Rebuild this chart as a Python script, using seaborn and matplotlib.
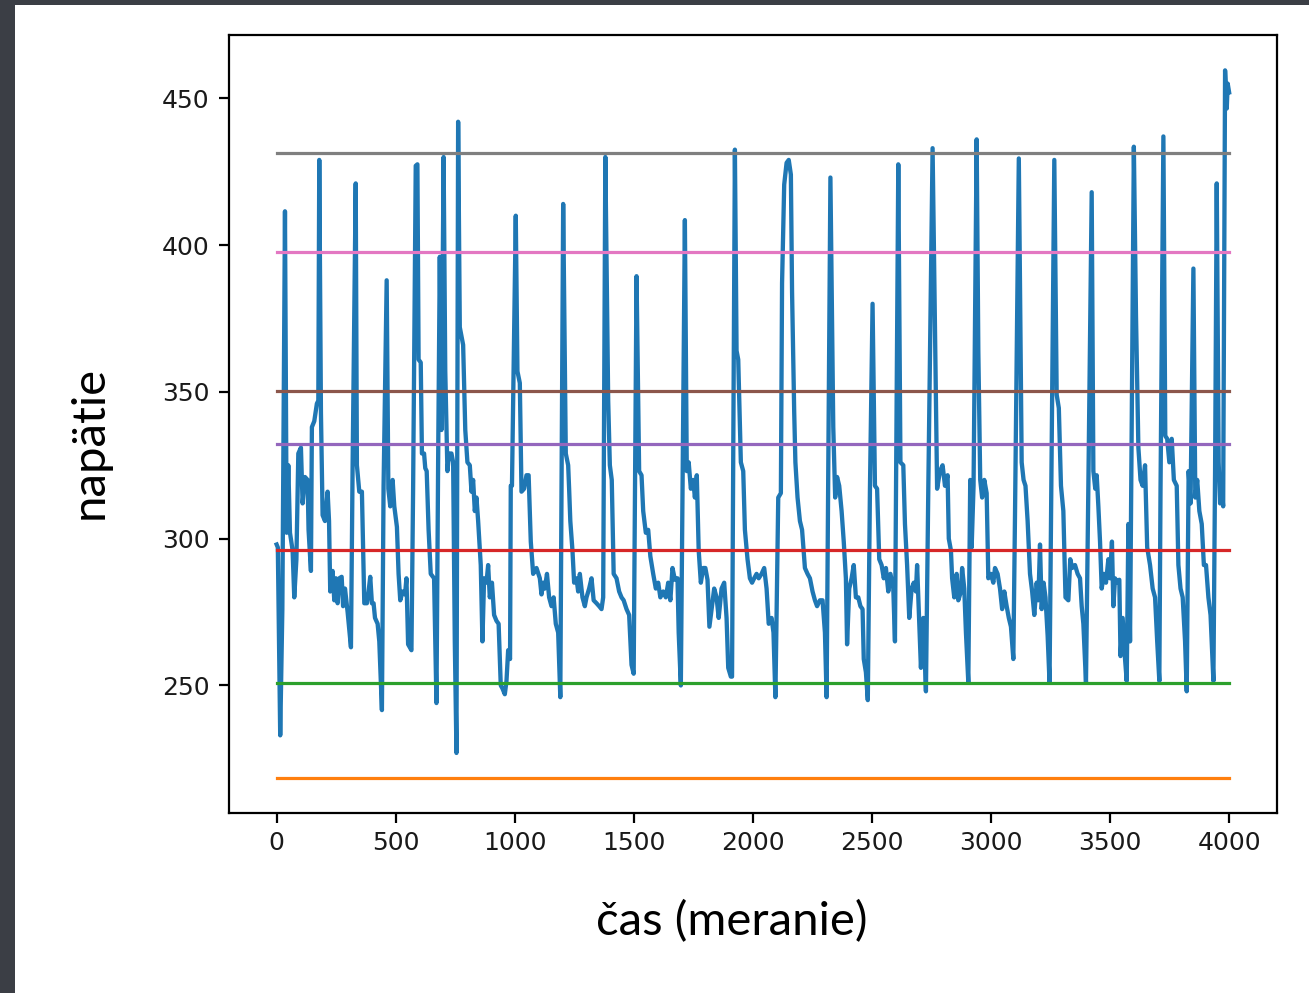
import matplotlib
matplotlib.use("Agg")
import matplotlib.pyplot as plt
from matplotlib.patches import Rectangle
import numpy as np
import pandas as pd
import seaborn as sns

# ---------------- data ----------------
time = [0, 5, 15, 24, 35, 42, 49, 56, 67, 74, 83, 91, 102, 109, 119, 130, 134, 144, 148, 158, 169, 175, 179, 186, 193,
        203, 214, 220, 225, 235, 242, 249, 256, 263, 273, 279, 287, 298, 312, 319, 332, 337, 347, 358, 368, 379, 386,
        393, 400, 407, 413, 424, 431, 442, 449, 462, 469, 477, 487, 494, 505, 512, 519, 529, 539,
        545, 552, 566, 573, 584, 591, 596, 605, 610, 619, 624, 630, 638, 647, 661, 671, 678, 685, 692, 701, 708, 717,
        724, 734, 741, 748, 755, 762, 769, 783, 792, 801, 811, 818, 825, 832, 839, 846, 857, 864, 871, 881, 888, 895,
        904, 913, 923, 932, 941, 948, 958, 965, 972, 980, 983, 988, 1004, 1011, 1021, 1028, 1039, 1049, 1058, 1067,
        1077, 1091, 1105,
        1112, 1119, 1126, 1135, 1144, 1154, 1163, 1172, 1182, 1191, 1203, 1214, 1224, 1228, 1233, 1242, 1249, 1259,
        1266, 1273, 1284, 1294, 1301, 1312, 1322, 1331, 1343, 1354, 1364, 1371, 1380, 1392, 1399, 1407, 1415, 1427,
        1438, 1448, 1457, 1469, 1480, 1490, 1499, 1511, 1522, 1532, 1539, 1550, 1560, 1569, 1581, 1592, 1602, 1611,
        1623, 1634, 1644, 1653, 1662, 1672, 1683, 1688, 1697,
        1714, 1722, 1730, 1739, 1749, 1756, 1764, 1772, 1781, 1791, 1800, 1809, 1817, 1828, 1837, 1847, 1856, 1868,
        1879, 1889, 1896, 1907, 1912, 1924, 1931, 1938, 1949, 1959, 1966, 1977, 1987, 1996, 2005, 2015, 2024, 2036,
        2047, 2057, 2066, 2078, 2086, 2094, 2106, 2117, 2122, 2131, 2141, 2150, 2159, 2164, 2173, 2178, 2187, 2197,
        2206, 2218, 2229, 2239,
        2250, 2260, 2269, 2281, 2292, 2302, 2309, 2325, 2337, 2345, 2353, 2362, 2372, 2381, 2390, 2395, 2404, 2414,
        2423, 2432, 2442, 2451, 2460, 2465, 2474, 2482, 2491, 2502, 2512, 2521, 2530, 2540, 2549, 2558, 2568, 2577,
        2589, 2596, 2610, 2619, 2631, 2638, 2647, 2656, 2666, 2675, 2684, 2689, 2698, 2705, 2715, 2726, 2736, 2754,
        2764, 2773, 2785, 2796, 2806,
        2817, 2822, 2831, 2836, 2845, 2855, 2862, 2873, 2878, 2887, 2894, 2904, 2912, 2918, 2926, 2939, 2946, 2954,
        2962, 2971, 2981, 2988, 2999, 3009, 3016, 3027, 3037, 3046, 3055, 3065, 3074, 3083, 3093, 3100, 3116, 3128,
        3136, 3144, 3153, 3163, 3172, 3181, 3191, 3198, 3205, 3212, 3220, 3228, 3237, 3245, 3265, 3275, 3284, 3293,
        3303, 3312, 3324, 3332, 3340, 3352, 3363, 3373,
        3380, 3387, 3398, 3408, 3422, 3429, 3437, 3443, 3450, 3457, 3464, 3473, 3482, 3492, 3499, 3507, 3513, 3520,
        3529, 3538, 3543, 3552, 3562, 3569, 3576, 3583, 3599, 3608, 3618, 3627, 3636, 3646, 3655, 3667, 3678, 3688,
        3697, 3706, 3711, 3723, 3731, 3739, 3748, 3758, 3767, 3779, 3786, 3795, 3804, 3814, 3821, 3829, 3837, 3849,
        3857, 3865, 3874, 3884, 3893, 3902, 3912, 3921, 3933, 3940, 3947, 3955, 3961, 3968, 3974, 3982, 3989, 3993,
        3999]

voltage = [298, 297, 233, 276, 411.5, 302, 325, 302, 296, 280, 293, 329, 331, 312, 321, 320, 303, 289, 338, 340, 346,
           347, 429, 343, 308, 306, 316, 306, 282, 289, 279, 286.5, 278, 286.5, 287, 277, 283, 275, 263, 325, 421, 325,
           316, 316, 278, 278, 282, 287, 278, 278, 273, 271, 265, 241.6, 318, 388, 317, 311, 320, 311, 304, 288, 279,
           282, 281,
           286.5, 264, 262, 317, 427, 427.5, 361, 360, 329, 329, 324, 323, 303, 288, 286.5, 244, 326, 396, 337, 430,
           357, 323, 329, 329, 326, 265, 227, 442, 372, 366, 337, 326, 325, 316, 320, 309.4, 314, 306, 291, 265, 286.5,
           285, 291, 280, 285, 274, 272, 271, 250, 249, 247, 251.5, 262, 259, 318, 318, 410, 357, 353, 316, 317, 321.6,
           321.6, 299, 288, 290, 286.5,
           281, 285, 283, 288, 280, 277, 280, 271, 268, 246, 414, 329, 325, 317, 306, 296, 285, 286.5, 282, 288, 280,
           277, 280, 283, 286.5, 279, 278, 277, 276, 280, 430, 347, 325, 320, 288, 286.5, 282, 280, 279, 276, 274, 257,
           254, 389.4, 323, 321.6, 309.4, 302, 303, 294, 288, 283, 285, 280, 282, 280, 285, 279, 290, 286, 286.5, 268,
           250,
           408.5, 323, 326, 317, 320, 314, 321.6, 296, 285, 290, 290, 286, 270, 277, 283, 280, 273, 283, 285, 273, 256,
           253, 253, 432.5, 364, 361, 326, 323, 303, 293, 286.5, 285, 286.5, 288, 286.5, 288, 290, 283, 271, 273, 268,
           246, 314, 315.5, 387, 420.6, 428, 429, 424, 384, 343, 326, 314, 306, 303, 290, 288, 286.5,
           282, 279, 277, 279, 279, 268, 246, 423, 338, 314, 321, 318, 309.4, 299, 286.5, 264, 283, 286.5, 291, 280,
           280, 277, 276, 259, 254.5, 245, 317, 380, 318, 317, 293, 291, 286.5, 290, 282, 288, 283, 265, 427.5, 326,
           325, 305, 291, 273, 283, 285, 282, 291, 271, 256, 273, 248, 317, 433, 372, 317, 323, 325, 318,
           321.6, 300, 296, 286.5, 280, 288, 279, 282, 290, 283, 268, 251, 320, 297, 318, 436, 364, 320, 314, 320,
           315.5, 286.5, 288, 285, 290, 288, 283, 276, 282, 277, 273, 270, 259, 308, 429.5, 326, 320, 318, 306, 288,
           282, 274, 285, 279, 298, 276, 285, 280, 267, 251, 429, 349, 344.5, 318, 309.4, 280, 279, 293, 290, 291, 288,
           286.5,
           277, 271, 251, 318, 418, 323, 317, 321.6, 311, 299, 283, 288, 285, 293, 286.5, 299, 277, 286.5, 285, 286,
           260, 273, 259, 251.5, 305, 265, 433.5, 376, 331, 320, 318, 325, 297, 291, 283, 280, 265, 251.5, 317, 437,
           335, 334, 326, 334, 320, 318, 291, 283, 280, 265, 248, 323, 312, 392, 314, 320, 309.4, 305, 291, 291, 280,
           274, 251.5, 323, 421, 326, 312, 317, 311, 459.5, 446.5, 455, 452]

# horizontal threshold levels (drawn in default colour-cycle order after the signal)
levels = [218.6, 251.0, 296.3, 332.2, 350.2, 397.7, 431.2]
level_span = [0, 4000]

x_label = "čas (meranie)"
y_label = "napätie"

# ---------------- figure ----------------
W, H = 1309, 993
fig = plt.figure(figsize=(W / 100, H / 100), dpi=100)
fig.patch.set_facecolor("white")

# slide frame (dark textured border on left and top)
fig.patches.append(Rectangle((0, 0), 15 / W, 1, transform=fig.transFigure,
                             facecolor="#3b3e45", edgecolor="none", zorder=-10))
fig.patches.append(Rectangle((0, 1 - 5 / H), 1, 5 / H, transform=fig.transFigure,
                             facecolor="#3b3e45", edgecolor="none", zorder=-10))

ax = fig.add_axes([229 / W, 1 - 813 / H, (1277 - 229) / W, (813 - 35) / H])
ax.set_facecolor("white")

palette = sns.color_palette("tab10")
df = pd.DataFrame({"t": time, "v": voltage})
sns.lineplot(data=df, x="t", y="v", ax=ax, color=palette[0], linewidth=3.1,
             estimator=None, sort=False)

for i, lvl in enumerate(levels):
    sns.lineplot(x=level_span, y=[lvl, lvl], ax=ax, color=palette[i + 1],
                 linewidth=2.3, estimator=None)

ax.set_xticks([0, 500, 1000, 1500, 2000, 2500, 3000, 3500, 4000])
ax.set_yticks([250, 300, 350, 400, 450])
ax.tick_params(axis="both", labelsize=18, length=7, width=1.6, colors="black", pad=6)
ax.tick_params(axis="y", pad=7)
for lab in ax.get_xticklabels() + ax.get_yticklabels():
    lab.set_family("DejaVu Sans")
    lab.set_color("#1a1a1a")
for s in ax.spines.values():
    s.set_linewidth(1.6)
    s.set_color("black")

lab_font = dict(fontsize=34, family=["Lato", "DejaVu Sans"], color="black")
ax.set_xlabel(x_label, **lab_font)
ax.set_ylabel(y_label, **lab_font)
ax.xaxis.set_label_coords((732 - 229) / 1048, (813 - 922) / 778)
ax.yaxis.set_label_coords((90 - 229) / 1048, (813 - 442) / 778)
ax.xaxis.label.set_va("center")
ax.yaxis.label.set_va("center")

fig.savefig("out.png", dpi=100)
